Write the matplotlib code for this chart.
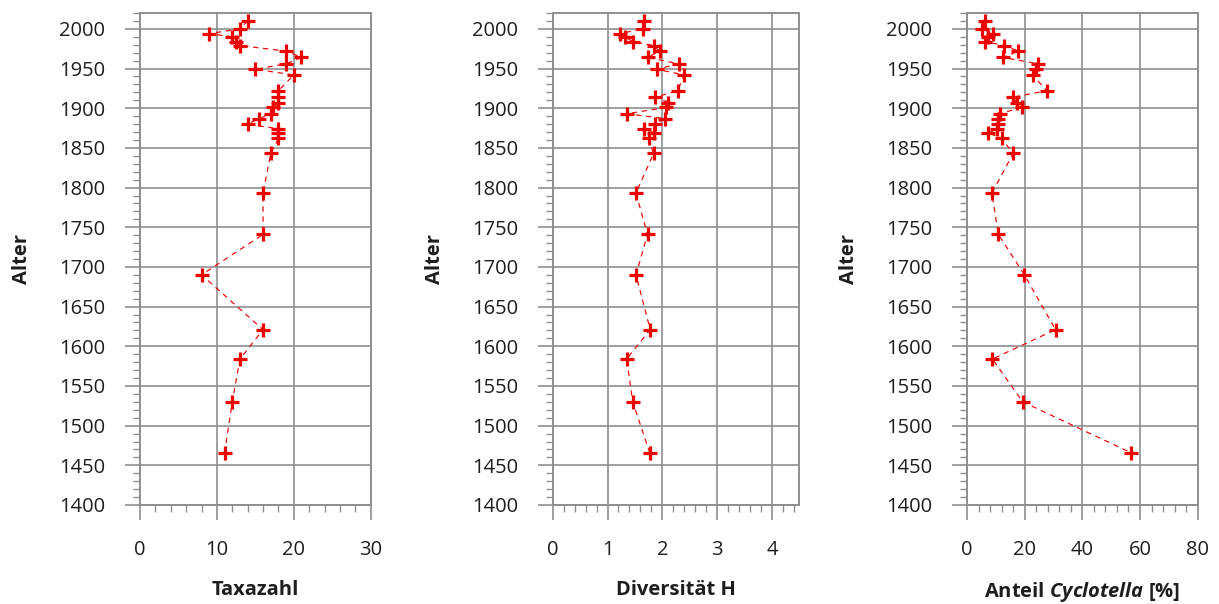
import matplotlib
matplotlib.use("Agg")
import matplotlib.pyplot as plt
from matplotlib.ticker import MultipleLocator

plt.rcParams['font.family'] = ['Open Sans', 'DejaVu Sans']
plt.rcParams['mathtext.fontset'] = 'custom'
plt.rcParams['mathtext.bfit'] = 'Open Sans:bold:italic'
plt.rcParams['mathtext.rm'] = 'Open Sans:bold'

# sample ages (shared by all three panels)
alter = [2010, 2000, 1994, 1990, 1984, 1979, 1972, 1964, 1956, 1949, 1942,
         1922, 1914, 1907, 1901, 1893, 1887, 1880, 1874, 1869, 1862, 1843,
         1793, 1741, 1690, 1621, 1584, 1530, 1466]

taxazahl = [14, 13, 9, 12, 12.5, 13, 19, 21, 19, 15, 20,
            18, 18, 18, 17.3, 17, 15.5, 14, 18, 18, 18, 17,
            16, 16, 8, 16, 13, 12, 11]

diversitaet = [1.67, 1.64, 1.23, 1.32, 1.46, 1.84, 1.95, 1.73, 2.30, 1.90, 2.40,
               2.28, 1.87, 2.11, 2.07, 1.35, 2.05, 1.87, 1.66, 1.84, 1.75, 1.84,
               1.52, 1.73, 1.52, 1.78, 1.35, 1.46, 1.77]

cyclotella = [6.2, 5.1, 9.1, 7.4, 6.2, 12.9, 17.8, 12.5, 24.7, 24.1, 22.8,
              27.6, 16.0, 17.2, 18.9, 11.4, 10.9, 10.9, 10.5, 7.4, 12.0, 16.0,
              8.6, 10.9, 19.9, 30.7, 8.8, 19.3, 56.8]

W, H = 1219, 604
fig = plt.figure(figsize=(W / 100, H / 100), dpi=100)

red = '#ee0000'
grid_col = '#8f8f8f'
text_col = '#1e1e1e'

panels = [
    # left px, width px, values, xmax, major, minor, xticks, label
    (140, 230.7, taxazahl, 30, 10, 2, [0, 10, 20, 30], 'Taxazahl'),
    (552.7, 246.6, diversitaet, 4.5, 1, 0.2, [0, 1, 2, 3, 4], 'Diversität H'),
    (967, 230.7, cyclotella, 80, 20, 4, [0, 20, 40, 60, 80],
     r'Anteil $\mathbfit{Cyclotella}$ [%]'),
]

top, bottom = 13, 505
for left, width, vals, xmax, major, minor, xticks, label in panels:
    ax = fig.add_axes([left / W, (H - bottom) / H, width / W, (bottom - top) / H])
    ax.plot(vals, alter, color=red, lw=0.85, ls=(0, (4.5, 4)), zorder=3)
    ax.plot(vals, alter, ls='none', marker='+', ms=10.5, mew=2.3, color=red, zorder=4)

    ax.set_xlim(0, xmax)
    ax.set_ylim(1400, 2020)
    ax.set_xticks(xticks)
    ax.xaxis.set_minor_locator(MultipleLocator(minor))
    ax.set_yticks(range(1400, 2001, 50))
    ax.yaxis.set_minor_locator(MultipleLocator(10))

    ax.grid(True, which='major', color=grid_col, lw=1.2)
    ax.set_axisbelow(True)
    for s in ax.spines.values():
        s.set_color(grid_col)
        s.set_linewidth(1.4)

    ax.tick_params(axis='both', which='major', direction='out', length=11,
                   width=1.2, color=grid_col, labelsize=14.5, labelcolor=text_col)
    ax.tick_params(axis='both', which='minor', direction='out', length=5,
                   width=1.0, color=grid_col)
    ax.tick_params(axis='y', which='major', pad=14)
    ax.tick_params(axis='x', which='major', pad=14)

    ax.set_xlabel(label, fontsize=14.5, fontweight='bold', color=text_col, labelpad=14.5)
    ax.set_ylabel('Alter', fontsize=14.5, fontweight='bold', color=text_col)
    ax.yaxis.set_label_coords(-108 / width, 0.5)

fig.savefig('out.png', dpi=100)
